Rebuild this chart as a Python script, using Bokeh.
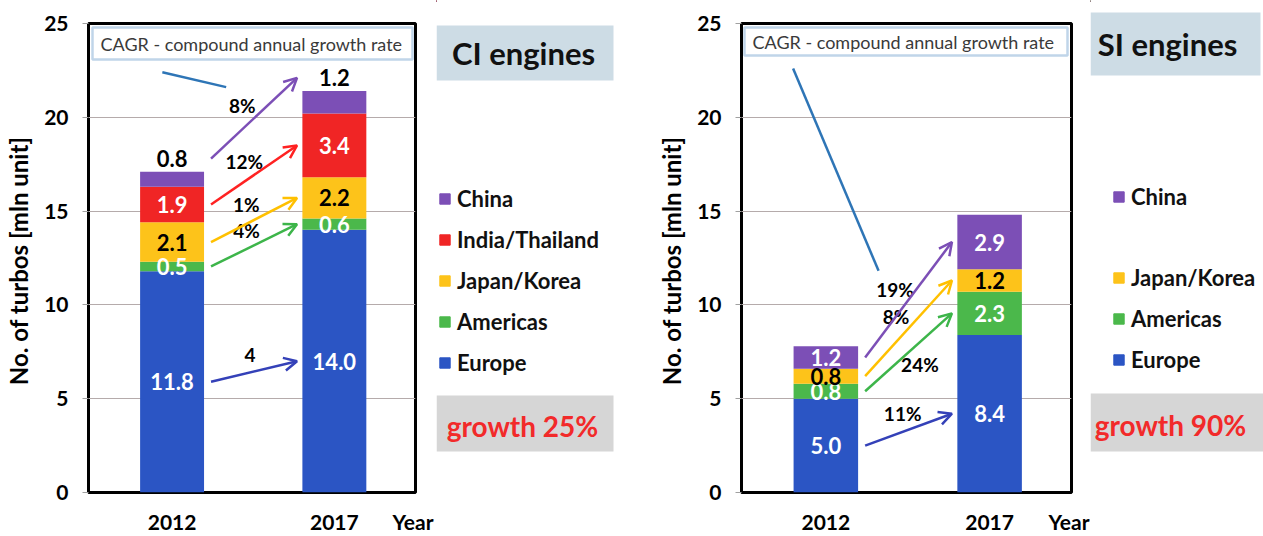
import math
from bokeh.plotting import figure
from bokeh.models import (ColumnDataSource, Range1d, FixedTicker, Label, BoxAnnotation,
                          Arrow, OpenHead, Legend, LegendItem)
from bokeh.layouts import row, column
from bokeh.embed import file_html
from bokeh.resources import INLINE
from bokeh.core.properties import value

# ---------------- data ----------------
years = ["2012", "2017"]
ci_regions = ["Europe", "Americas", "Japan/Korea", "India/Thailand", "China"]
ci_2012 = [11.8, 0.5, 2.1, 1.9, 0.8]
ci_2017 = [14.0, 0.6, 2.2, 3.4, 1.2]
ci_cagr = ["4", "4%", "1%", "12%", "8%"]

si_regions = ["Europe", "Americas", "Japan/Korea", "China"]
si_2012 = [5.0, 0.8, 0.8, 1.2]
si_2017 = [8.4, 2.3, 1.2, 2.9]
si_cagr = ["11%", "24%", "8%", "19%"]

ci_title = "CI engines"
si_title = "SI engines"
ci_growth = "growth 25%"
si_growth = "growth 90%"
note_text = "CAGR - compound annual growth rate"
y_label = "No. of turbos  [mln unit]"
x_extra = "Year"
y_ticks = [0, 5, 10, 15, 20, 25]

# ---------------- styles ----------------
FONT = "Lato"
COLORS = {"Europe": "#2b55c4", "Americas": "#4bb84b", "Japan/Korea": "#fdc31a",
          "India/Thailand": "#f02525", "China": "#7c4fb6"}
ARROW_COLORS = {"Europe": "#3441b8", "Americas": "#3db54a", "Japan/Korea": "#ffc000",
                "India/Thailand": "#ff2222", "China": "#7c4fb6"}
DARK_TEXT = {"Japan/Korea"}
XR = (-0.515, 1.5)
BAR_W = 0.394
X0_ARROW, X1_ARROW = 0.24, 0.77
YEAR_POS = 1.485
FIG_H = 536
FRAME_H = 470
BORDER_TOP = 23
BORDER_BOTTOM = FIG_H - BORDER_TOP - FRAME_H
CAGR_DIST = 17
LEG_ITEM_H = 26.4
LEG_SPACING = 14


def make_panel(regions, va, vb, cagr, width, bl, br, above, below_cagr,
               line_start, note_box, axis_label_standoff):
    src = ColumnDataSource(dict(x=[0, 1], **{r: [va[i], vb[i]] for i, r in enumerate(regions)}))
    p = figure(width=width, height=FIG_H, x_range=Range1d(*XR), y_range=Range1d(0, 25),
               output_backend="svg", toolbar_location=None, title=None,
               min_border_left=bl, min_border_right=br,
               min_border_top=BORDER_TOP, min_border_bottom=BORDER_BOTTOM)
    p.background_fill_color = "white"
    p.border_fill_color = "white"
    p.outline_line_color = "black"
    p.outline_line_width = 3

    rends = p.vbar_stack(regions, x="x", width=BAR_W, source=src,
                         color=[COLORS[r] for r in regions], line_color=None)

    # axes
    p.xgrid.visible = False
    p.ygrid.ticker = FixedTicker(ticks=y_ticks)
    p.ygrid.grid_line_color = "#b5abab"
    p.ygrid.grid_line_width = 1.2
    ya = p.yaxis[0]
    ya.ticker = FixedTicker(ticks=y_ticks)
    ya.axis_label = y_label
    ya.axis_label_text_font = FONT
    ya.axis_label_text_font_style = "bold"
    ya.axis_label_text_font_size = "24px"
    ya.axis_label_text_color = "black"
    ya.axis_label_standoff = axis_label_standoff
    ya.major_label_text_font = FONT
    ya.major_label_text_font_style = "bold"
    ya.major_label_text_font_size = "21px"
    ya.major_label_text_color = "black"
    ya.major_label_standoff = 14
    ya.axis_line_color = None
    ya.major_tick_out = 6
    ya.major_tick_in = 0
    ya.major_tick_line_color = "#a0a0a0"
    ya.minor_tick_line_color = None

    xa = p.xaxis[0]
    xa.ticker = FixedTicker(ticks=[0, 1, YEAR_POS])
    xa.major_label_overrides = {0: years[0], 1: years[1], YEAR_POS: x_extra}
    xa.major_label_text_font = FONT
    xa.major_label_text_font_style = "bold"
    xa.major_label_text_font_size = "21px"
    xa.major_label_text_color = "black"
    xa.major_label_standoff = 10
    xa.axis_line_color = None
    xa.major_tick_line_color = None
    xa.minor_tick_line_color = None

    # value labels
    lx, ly, lt, lc = [], [], [], []
    pos = {}
    for j, vals in enumerate((va, vb)):
        acc = 0.0
        for i, r in enumerate(regions):
            bot = acc
            acc = round(acc + vals[i], 3)
            if r in above:
                y = acc + 0.7
                col = "black"
            else:
                y = (bot + acc) / 2
                col = "black" if r in DARK_TEXT else "white"
            pos[(j, i)] = y
            lx.append(j); ly.append(y); lt.append(f"{vals[i]:.1f}"); lc.append(col)
    p.text(x="x", y="y", text="t", text_color="c",
           source=ColumnDataSource(dict(x=lx, y=ly, t=lt, c=lc)),
           text_font=value(FONT), text_font_style="bold", text_font_size="22px",
           text_align="center", text_baseline="middle")

    # CAGR arrows + labels
    fw = width - bl - br
    sx = fw / (XR[1] - XR[0])
    sy = FRAME_H / 25.0
    cx_, cy_, ct_ = [], [], []
    for i, r in enumerate(regions):
        y0, y1 = pos[(0, i)], pos[(1, i)]
        p.add_layout(Arrow(x_start=X0_ARROW, y_start=y0, x_end=X1_ARROW, y_end=y1,
                           line_color=ARROW_COLORS[r], line_width=2.5,
                           end=OpenHead(size=13, line_color=ARROW_COLORS[r], line_width=2.5)))
        dx = (X1_ARROW - X0_ARROW) * sx
        dy = (y1 - y0) * sy
        L = math.hypot(dx, dy)
        side = -1 if r in below_cagr else 1
        nx, ny = -dy / L * side, dx / L * side
        cx_.append((X0_ARROW + X1_ARROW) / 2 + nx * CAGR_DIST / sx)
        cy_.append((y0 + y1) / 2 + ny * CAGR_DIST / sy)
        ct_.append(cagr[i])
    p.text(x="x", y="y", text="t", source=ColumnDataSource(dict(x=cx_, y=cy_, t=ct_)),
           text_font=value(FONT), text_font_style="bold", text_font_size="19px",
           text_color="black", text_align="center", text_baseline="middle")

    # pointer from the note box to the CAGR labels
    p.add_layout(Arrow(x_start=line_start[0], y_start=line_start[1],
                       x_end=cx_[-1] - 0.1, y_end=cy_[-1] + 1.0,
                       line_color="#2e75b6", line_width=2.5, end=None))

    # note box (inside frame)
    l, rr, t, b = note_box
    p.add_layout(BoxAnnotation(left=l, right=rr, top=t, bottom=b, left_units="screen",
                               right_units="screen", top_units="screen", bottom_units="screen",
                               fill_color="white", fill_alpha=1, line_color="#2e75b6", line_width=2.5))
    p.add_layout(Label(x=l + 8, y=(t + b) / 2, x_units="screen", y_units="screen", text=note_text,
                       text_font=FONT, text_font_size="18px", text_color="#3a3a3a",
                       text_align="left", text_baseline="middle"))
    return p


def make_side(width, regions, title, growth, title_box, title_cx, growth_box, growth_cx, legend_groups):
    # side panel: its frame covers the whole canvas, data units == pixels from the top-left
    s = figure(width=width, height=FIG_H, x_range=Range1d(0, width), y_range=Range1d(FIG_H, 0),
               output_backend="svg", toolbar_location=None, title=None,
               x_axis_location=None, y_axis_location=None,
               min_border_left=0, min_border_right=0, min_border_top=0, min_border_bottom=0)
    s.outline_line_color = None
    s.grid.visible = False
    s.background_fill_color = "white"
    s.border_fill_color = "white"

    # legend swatches: proxy renderers placed outside the visible range
    rmap = {r: s.vbar(x=[-1000], top=[1], width=1, color=COLORS[r]) for r in regions}

    l, rr, t, b = title_box
    s.add_layout(BoxAnnotation(left=l, right=rr, top=t, bottom=b, fill_color="#cddce5",
                               fill_alpha=1, line_color=None))
    s.add_layout(Label(x=title_cx, y=(t + b) / 2, text=title, text_font=FONT, text_font_style="bold",
                       text_font_size="31px", text_color="#111111",
                       text_align="center", text_baseline="middle"))
    l, rr, t, b = growth_box
    s.add_layout(BoxAnnotation(left=l, right=rr, top=t, bottom=b, fill_color="#d6d6d6",
                               fill_alpha=1, line_color=None))
    s.add_layout(Label(x=growth_cx, y=(t + b) / 2 + 2, text=growth, text_font=FONT,
                       text_font_style="bold", text_font_size="28px", text_color="#f22a2a",
                       text_align="center", text_baseline="middle"))

    for (lx0, first_center, names) in legend_groups:
        n = len(names)
        h = n * LEG_ITEM_H + (n - 1) * LEG_SPACING
        top_px = first_center - LEG_ITEM_H / 2
        leg = Legend(items=[LegendItem(label=nm, renderers=[rmap[nm]]) for nm in names],
                     location=(lx0, FIG_H - (top_px + h)), orientation="vertical",
                     label_text_font=FONT, label_text_font_style="bold", label_text_font_size="22px",
                     label_text_color="#111111", glyph_width=13, glyph_height=13,
                     label_height=26, spacing=LEG_SPACING, padding=0, margin=0, label_standoff=6,
                     border_line_color=None, background_fill_alpha=0)
        s.add_layout(leg)
    return s


p1 = make_panel(ci_regions, ci_2012, ci_2017, ci_cagr,
                width=436, bl=88, br=21, above={"China"}, below_cagr=set(),
                line_start=(-0.06, 22.4), note_box=(4, 324, 465, 433), axis_label_standoff=8)
s1 = make_side(196, ci_regions, ci_title, ci_growth,
               title_box=(0, 177, 25, 80), title_cx=87, growth_box=(0, 177, 395, 451), growth_cx=86,
               legend_groups=[(2, 201, ["China", "India/Thailand", "Japan/Korea", "Americas", "Europe"])])

p2 = make_panel(si_regions, si_2012, si_2017, si_cagr,
                width=458, bl=109, br=19, above=set(), below_cagr={"Americas"},
                line_start=(-0.2, 22.6), note_box=(3, 326, 465, 437), axis_label_standoff=8)
s2 = make_side(173, si_regions, si_title, si_growth,
               title_box=(0, 170, 12, 75), title_cx=77, growth_box=(0, 173, 393, 451), growth_cx=80,
               legend_groups=[(22, 197, ["China"]), (22, 279, ["Japan/Korea", "Americas", "Europe"])])

layout = row(column(p1), column(s1), column(p2), column(s2))
open("out.html", "w").write(file_html(layout, INLINE))
